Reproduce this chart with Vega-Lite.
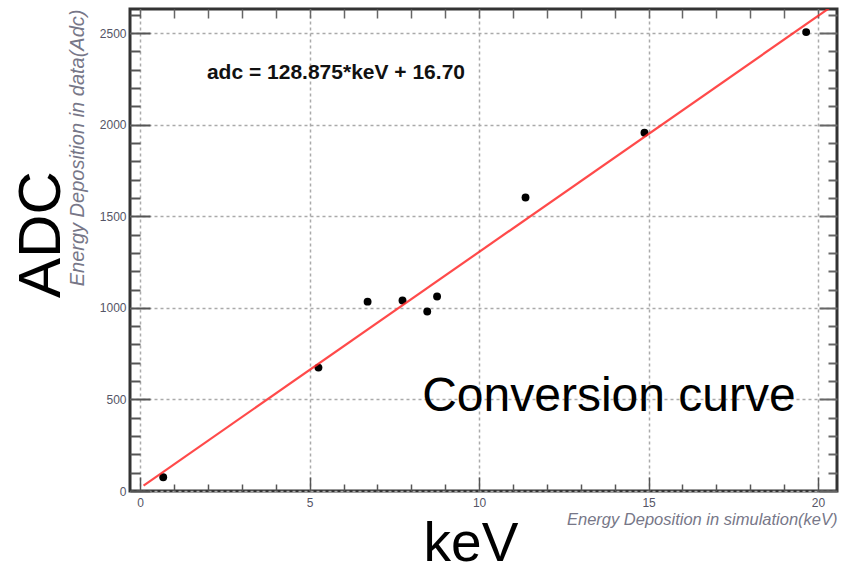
{
  "$schema": "https://vega.github.io/schema/vega-lite/v6.json",
  "width": 707,
  "height": 482,
  "autosize": "none",
  "padding": {"left": 130, "top": 9, "right": 4, "bottom": 82},
  "background": "white",
  "config": {
    "font": "Liberation Sans",
    "view": {"stroke": "#333333", "strokeWidth": 3}
  },
  "datasets": {
    "points": [
      {"keV": 0.68, "adc": 75},
      {"keV": 5.26, "adc": 674},
      {"keV": 6.71, "adc": 1034},
      {"keV": 7.74, "adc": 1040},
      {"keV": 8.47, "adc": 980},
      {"keV": 8.76, "adc": 1062},
      {"keV": 11.37, "adc": 1603},
      {"keV": 14.88, "adc": 1956},
      {"keV": 19.65, "adc": 2506}
    ],
    "fit": [
      {"keV": 0.1, "adc": 29.59},
      {"keV": 20.6, "adc": 2671.5}
    ]
  },
  "layer": [
    {
      "data": {"name": "points"},
      "mark": {"type": "circle", "color": "black", "opacity": 1, "size": 62},
      "encoding": {
        "x": {
          "field": "keV", "type": "quantitative",
          "scale": {"domain": [-0.3, 20.56], "nice": false, "zero": false},
          "axis": {
            "orient": "bottom",
            "values": [0,1,2,3,4,5,6,7,8,9,10,11,12,13,14,15,16,17,18,19,20],
            "labelExpr": "datum.value % 5 === 0 ? datum.label : ''",
            "tickSize": {"condition": {"test": "datum.value % 5 === 0", "value": -14}, "value": -7},
            "tickColor": "#555555",
            "tickWidth": 1.5,
            "domain": false,
            "grid": true,
            "gridOpacity": {"condition": {"test": "datum.value % 5 === 0", "value": 1}, "value": 0},
            "gridDash": [3, 3],
            "gridColor": "#aaaaaa",
            "gridWidth": 1.5,
            "labelFontSize": 12,
            "labelColor": "#555566",
            "labelPadding": 20,
            "labelFlush": false,
            "title": "Energy Deposition in simulation(keV)",
            "titleAnchor": "end",
            "titleFontStyle": "italic",
            "titleFontWeight": "normal",
            "titleFontSize": 16.5,
            "titleColor": "#777788",
            "titlePadding": 3
          }
        },
        "y": {
          "field": "adc", "type": "quantitative",
          "scale": {"domain": [0, 2632], "nice": false, "zero": false},
          "axis": {
            "orient": "left",
            "values": [0,100,200,300,400,500,600,700,800,900,1000,1100,1200,1300,1400,1500,1600,1700,1800,1900,2000,2100,2200,2300,2400,2500,2600],
            "labelExpr": "datum.value % 500 === 0 ? datum.value : ''",
            "tickSize": {"condition": {"test": "datum.value % 500 === 0", "value": -20}, "value": -10},
            "tickColor": "#555555",
            "tickWidth": 2,
            "domain": false,
            "grid": true,
            "gridOpacity": {"condition": {"test": "datum.value % 500 === 0", "value": 1}, "value": 0},
            "gridDash": [3, 3],
            "gridColor": "#aaaaaa",
            "gridWidth": 1.5,
            "labelFontSize": 12,
            "labelColor": "#555566",
            "labelPadding": 24,
            "labelFlush": false,
            "title": "Energy Deposition in data(Adc)",
            "titleAnchor": "end",
            "titleFontStyle": "italic",
            "titleFontWeight": "normal",
            "titleFontSize": 20,
            "titleColor": "#777788",
            "titlePadding": 12
          }
        }
      }
    },
    {
      "data": {"name": "fit"},
      "mark": {"type": "line", "color": "#ff2a2a", "strokeWidth": 2.2, "opacity": 0.85, "clip": true},
      "encoding": {
        "x": {
          "field": "keV", "type": "quantitative",
          "scale": {"domain": [-0.3, 20.56], "nice": false, "zero": false},
          "axis": {
            "orient": "top",
            "values": [0,1,2,3,4,5,6,7,8,9,10,11,12,13,14,15,16,17,18,19,20],
            "labels": false,
            "tickSize": -9,
            "tickColor": "#666666",
            "tickWidth": 1.5,
            "domain": false,
            "grid": false,
            "title": null
          }
        },
        "y": {
          "field": "adc", "type": "quantitative",
          "scale": {"domain": [0, 2632], "nice": false, "zero": false},
          "axis": {
            "orient": "right",
            "values": [0,100,200,300,400,500,600,700,800,900,1000,1100,1200,1300,1400,1500,1600,1700,1800,1900,2000,2100,2200,2300,2400,2500,2600],
            "labels": false,
            "tickSize": {"condition": {"test": "datum.value % 500 === 0", "value": -18}, "value": -9},
            "tickColor": "#666666",
            "tickWidth": 2,
            "domain": false,
            "grid": false,
            "title": null
          }
        }
      }
    },
    {
      "data": {"values": [{}]},
      "mark": {"type": "text", "text": "adc =  128.875*keV + 16.70", "font": "Liberation Sans", "fontWeight": "bold", "fontSize": 21, "align": "left", "baseline": "middle", "color": "#111111"},
      "encoding": {
        "x": {"datum": 1.97, "type": "quantitative", "axis": null},
        "y": {"datum": 2283, "type": "quantitative", "axis": null}
      }
    },
    {
      "data": {"values": [{}]},
      "mark": {"type": "text", "text": "Conversion curve", "font": "Liberation Sans", "fontSize": 48, "align": "left", "baseline": "alphabetic", "color": "black"},
      "encoding": {
        "x": {"datum": 8.32, "type": "quantitative", "axis": null},
        "y": {"datum": 435, "type": "quantitative", "axis": null}
      }
    },
    {
      "data": {"values": [{}]},
      "mark": {"type": "text", "text": "ADC", "font": "Liberation Sans", "fontSize": 60, "align": "center", "baseline": "middle", "angle": 270, "color": "black", "clip": false},
      "encoding": {
        "x": {"datum": -2.9, "type": "quantitative", "axis": null},
        "y": {"datum": 1400, "type": "quantitative", "axis": null}
      }
    },
    {
      "data": {"values": [{}]},
      "mark": {"type": "text", "text": "keV", "font": "Liberation Sans", "fontSize": 55, "align": "center", "baseline": "alphabetic", "color": "black", "clip": false},
      "encoding": {
        "x": {"datum": 9.76, "type": "quantitative", "axis": null},
        "y": {"datum": -384, "type": "quantitative", "axis": null}
      }
    }
  ],
  "resolve": {"axis": {"x": "independent", "y": "independent"}}
}
